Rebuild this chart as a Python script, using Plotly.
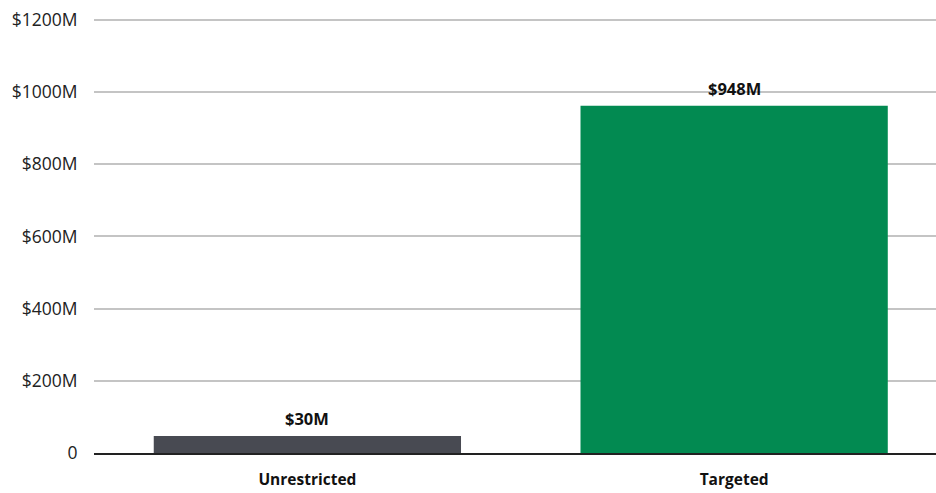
import plotly.graph_objects as go

categories = ["Unrestricted", "Targeted"]
bar_values = [47, 962]
bar_labels = ["$30M", "$948M"]
bar_colors = ["#484a52", "#028a51"]
tick_values = [0, 200, 400, 600, 800, 1000, 1200]
tick_labels = ["0", "$200M", "$400M", "$600M", "$800M", "$1000M", "$1200M"]

fig = go.Figure()
fig.add_trace(go.Bar(
    x=categories, y=bar_values, marker=dict(color=bar_colors, line=dict(width=0)),
    hoverinfo="skip",
))
for c, v, t in zip(categories, bar_values, bar_labels):
    fig.add_annotation(x=c, y=v, text="<b>" + t + "</b>", showarrow=False,
                       yanchor="bottom", yshift=4,
                       font=dict(family="Open Sans", size=16.5, color="#111111"))

fig.update_layout(
    width=936, height=493,
    margin=dict(l=94, r=0, t=18, b=40, autoexpand=False),
    paper_bgcolor="white", plot_bgcolor="white",
    bargap=0.28, showlegend=False,
    font=dict(family="Open Sans", size=16, color="#222222"),
    xaxis=dict(range=[-0.5, 1.473], showgrid=False, showline=True,
               linecolor="#222222", linewidth=1.5, automargin=False,
               tickfont=dict(family="Open Sans", size=15.5, color="#111111"),
               tickvals=categories,
               ticktext=["<b>" + c + "</b>" for c in categories],
               ticks="outside", ticklen=12, tickcolor="rgba(0,0,0,0)"),
    yaxis=dict(range=[0, 1205], tickvals=tick_values, ticktext=tick_labels,
               showgrid=True, gridcolor="#c4c4c4", gridwidth=1.5,
               zeroline=False, showline=False, automargin=False,
               ticks="outside", ticklen=12, tickcolor="rgba(0,0,0,0)",
               tickfont=dict(family="Open Sans", size=17.5, color="#222222")),
)
fig.write_html("out.html", config={"displayModeBar": False},
               post_script="document.body.style.margin='0';document.body.style.overflow='hidden';")
